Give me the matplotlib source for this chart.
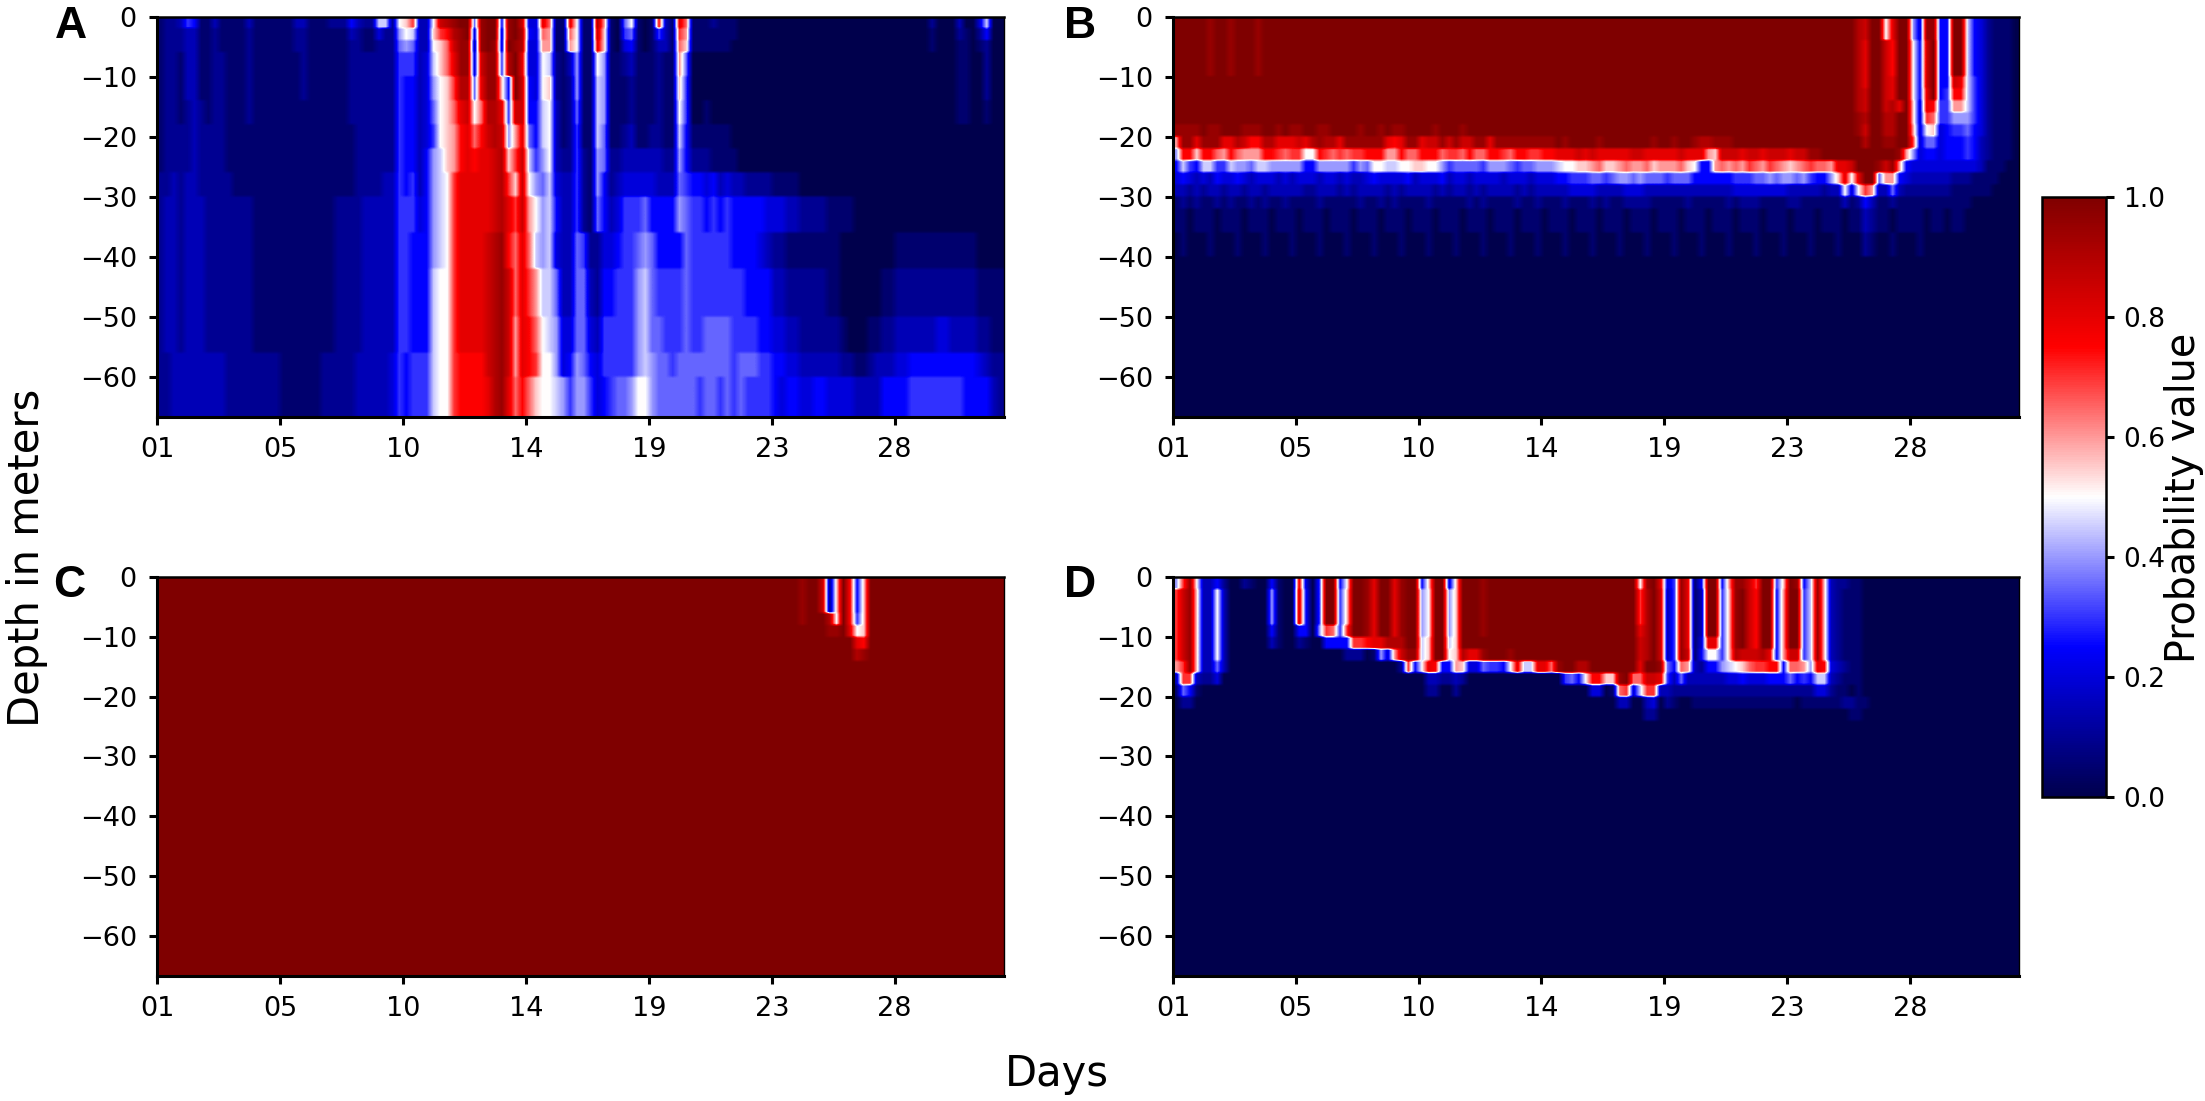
import matplotlib
matplotlib.use('Agg')
import matplotlib.pyplot as plt
import numpy as np

matplotlib.rcParams['font.family'] = ['DejaVu Sans']

# Values, one string per depth band, 4 samples per day,
# one character per sample: int(ch, 36) / 20 -> 0=0.0, a=0.5, k=1.0
day_ticks = [0, 4.5, 9, 13.5, 18, 22.5, 27]
day_labels = ['01', '05', '10', '14', '19', '23', '28']
depth_ticks = [0, -10, -20, -30, -40, -50, -60]
colorbar_ticks = [0.0, 0.2, 0.4, 0.6, 0.8, 1.0]

left_s = '1221 3311 2211 1211 1111 1211 1111 2222 2226 '
left_m = '2332 3332 2222 2211 1111 1111 1122 2233 3336 '
left_d = '2233 3333 3322 2222 2211 1111 2222 2333 3346 '

a_spans = [1, 1, 1, 2, 2, 2, 2, 2, 2, 3, 3, 4, 3, 2, 4]
a_rows = [
    '1223 6511 3111 1311 1111 3311 1222 5322 992a be33 ahij kk7j kk5j kh44 gd11 ga11 ic10 7a10 1f31 gd11 1211 '
    '1000 0000 0000 0000 0000 0000 0000 0200 0300 4900',
    '1222 3311 2111 1211 1111 2211 1111 3211 4228 a933 befi jk4j kk4j ki54 dc11 da11 hb10 6710 1631 ec11 1111 '
    '1000 0000 0000 0000 0000 0000 0000 0100 0210 2500',
    '1222 3311 2111 1211 1111 2211 1111 2211 2227 8733 abdh jj3j kj4k ji44 cc11 ca11 gb10 4510 1331 db11 1111 '
    '0000 0000 0000 0000 0000 0000 0000 0100 0110 1200',
    left_s + '6634 9bdg jj4h jj6i kg44 a921 3811 a811 2311 1211 c700 0000 '
    '0000 0000 0000 0000 0000 0000 0000 0000 0110 0200',
    left_s + '5534 8abe ii7g jjb5 kh54 ab21 2811 9811 1211 1211 b600 0000 '
    '0000 0000 0000 0000 0000 0000 0000 0000 0110 0200',
    '1221 2321 2211 1211 1111 1111 1111 2222 2226 '
    '5534 7abd ghad iig6 hh55 9a31 2711 9811 1211 1211 a600 1000 '
    '0000 0000 0000 0000 0000 0000 0000 0000 0110 0100',
    '1222 2322 2211 1111 1111 1111 1111 1222 2226 '
    '5534 6abc fgdf hih8 cg75 9a31 2611 9711 2311 2211 9511 1111 '
    '0000 0000 0000 0000 0000 0000 0000 0000 0000 0000',
    '1222 2322 2211 1111 1111 1111 1111 1222 2226 '
    '5535 89bc fgfg ghib eh96 8a32 2621 8722 3333 3322 8522 2111 '
    '1000 0000 0000 0000 0000 0000 0000 0000 0000 0000',
    '2232 3322 2221 1111 1111 1111 1111 1222 2336 '
    '5635 89ae gggg ghie bha8 7943 3621 8523 4444 4333 7655 4534 '
    '3322 2211 1100 0000 0000 0000 0000 0000 0000 0000',
    left_m + '6645 89ae gggg ghig ehca 8953 3621 7534 6667 5555 8766 5656 '
    '5555 5444 3322 2211 1100 0000 0000 0000 0000 0000',
    left_m + '6555 89ae gggg hijf dgd9 8943 3762 2445 6678 7555 5766 6666 '
    '5555 4322 1111 1111 0000 0000 1111 1111 1111 0000',
    left_m + '6555 9aae gggg hijh dgec 9973 3773 2556 6689 7666 6766 6666 '
    '6655 5533 2222 2211 0000 0011 2222 2222 2222 1111',
    left_m + '6555 9aae gggg hijh cgfd a984 4774 3666 6689 7766 6766 7777 '
    '6666 5544 3322 2222 1000 1122 3333 3344 3333 2211',
    left_d + '5666 9aae ffff hijh cgfe aa84 5875 4666 6689 8776 7777 7777 '
    '6777 6655 4433 3333 2211 2333 4455 5555 5555 4322',
    left_d + '5666 9aae ffff gijg dfdb aa98 6886 4567 78aa 8777 7776 7767 '
    '6766 6654 5544 5544 4433 3355 5566 6666 6655 5532',
]

b_spans = [2, 3, 1, 1, 1, 1, 1, 1, 1, 1, 1, 1, 1, 2, 2, 14]
b_rows = [
    'kkkk kjkk jkkk jkkk ' + 'kkkk ' * 21 + 'ihkk agkk 84jj 55kk 9542 1110',
    'kkkk kjkk jkkk jkkk ' + 'kkkk ' * 21 + 'igkk hfkk a5hk 55kk 9542 1110',
    'kkkk ' * 25 + 'igkk hgkk a5hk 55hg 9642 1110',
    'kkkk ' * 25 + 'ihkk hgkk a5gk 56ff 9642 1110',
    'kkkk ' * 25 + 'ihkk higk b4gf 66cc 9642 1110',
    'kkkk ' * 25 + 'jikk iikk b4ed 6688 8642 1110',
    'jjjj kjjk kkjj jkkj kjjk kjjk kkkj kkjk jjkk kkjk kkjk kkkk kkkk kkkk '
    + 'kkkk ' * 11 + 'jhkk iikk c4ab 4566 7542 1110',
    'cjjg jjjg gihf fiig gghg ijii gjjj jjjg fgjj ghhj hjhh jjgj jjjj jjjj '
    'kjkk kkjk kkkk kkjk kjkk jiij jjkk kkkk kkkk kkkk kkkk '
    'kikk jjkk e477 4555 6532 1110',
    '8ffb ffdc fdcc cffe deea afed edee fffc cfdd fffd eedf ddff edff eeff '
    'gggh ghgg gggh hggg gghg ggcb hhhg hhgh hhgh hjjk kkkk '
    'kkkk kkjc 8455 4555 6532 1110',
    '5965 9966 9887 9988 8885 5888 8868 7aa9 9aab baa8 6777 7688 8767 7888 '
    '9aab bcdb bcdc cdbc ccdb a55c dcdc edce dcbc dedd cggh '
    'kkkj hjc5 4444 4444 4431 1100',
    '4543 4354 4543 4443 4344 4344 3433 4544 4453 4445 3443 4444 3444 3444 '
    '5566 6776 7887 8777 6777 5555 5566 6778 7887 8655 8bga '
    'gkk7 cc54 3333 3322 2111 1000',
    '3323 2332 3323 3233 3332 2333 2323 3332 3233 3323 2332 3233 3323 2333 '
    '3344 4433 3344 4333 3333 3333 3344 4444 4433 3332 33a4 '
    'aec3 3732 2222 2211 1111 0000',
    '1212 1121 2112 1211 2111 1211 1112 1121 2111 1211 1112 1211 1121 1211 '
    '1211 1212 1122 2211 1112 1111 1212 2211 1122 1111 1131 '
    '2531 1211 1111 1111 1000 0000',
    '1101 ' * 25 + '1321 1011 1101 1011 0000 0000',
    '0100 ' * 25 + '0210 0100 0100 0000 0000 0000',
    '0000 ' * 31,
]

c_spans = [3, 1, 1, 1, 1, 27]
c_rows = [
    'kkkk ' * 23 + 'kkjk kh2b kf5b ' + 'kkkk ' * 5,
    'kkkk ' * 23 + 'kkjk kkia kf6b ' + 'kkkk ' * 5,
    'kkkk ' * 23 + 'kkkk kkjj kgab ' + 'kkkk ' * 5,
    'kkkk ' * 23 + 'kkkk kkkk kkgf ' + 'kkkk ' * 5,
    'kkkk ' * 23 + 'kkkk kkkk kkij ' + 'kkkk ' * 5,
    'kkkk ' * 31,
]

d_spans = [1, 3, 1, 1, 1, 1, 1, 1, 1, 1, 3, 19]
d_rows = [
    '8eja 3352 0021 0051 00g4 06kk 5akk jgkk gjkk 5bkk 4bkk kjkk kkkk kkkk kkkk kkkk kkkk '
    'ajkg 46jg 15kk 5cjj hekk 6bkj 59jb 3221 1000 ' + '0000 ' * 5,
    'ehjb 33a3 0000 0081 00h5 06kk 6bkk jgkk gjkk 8akk 8bkk kjkk kkkk kkkk kkkk kkkk kkkk '
    'eikh 36jg 13kk 6bjk hfkk 5ckk 69jb 3211 1000 ' + '0000 ' * 5,
    'ehjb 33a3 0000 0051 0055 08ed 6ekk jgkk gjkk 8akk 8bkk kjkk kkkk kkkk kkkk kkkk kkkk '
    'gikh 36jg 13kk 6bjk hfkk 5ckk 69jb 3211 1000 ' + '0000 ' * 5,
    'ehjb 33a3 0000 0031 0021 0055 55ee fggi iikk 9bkk 9bkk kkkk kkkk kkkk kkkk kkkk kkkk '
    'hikh 36jg 14gg 6bjk hfkk 5ckk 69jb 3211 1000 ' + '0000 ' * 5,
    'ehjb 33a3 0000 0000 0000 0000 0222 0184 chjj 9bkk abig gjkk kjkk kkkk kkkk kkkk kkkk '
    'hikh 36jh 15aa 6bih hhig 5chh 69jb 3211 1000 ' + '0000 ' * 5,
    'cejb 3373 0000 0000 0000 0000 0000 0000 02e5 agf5 5cb4 4766 5ag9 9ggd jkki ikkk kkkk '
    'gkkj 75dc 3255 89ab deef f5dd c8gf 4321 1000 ' + '0000 ' * 5,
    '3ee3 2240 0000 0000 0000 0000 0000 0000 0000 0332 2320 0000 0000 0000 0675 affb bjkd '
    'dhhg 6373 3333 3445 4445 5575 6599 3211 1000 ' + '0000 ' * 5,
    '1751 0000 0000 0000 0000 0000 0000 0000 0000 0220 0200 0000 0000 0000 0000 0440 1de4 '
    '9ee3 3222 2222 2222 2222 2222 2244 2110 1000 ' + '0000 ' * 5,
    '0220 0000 0000 0000 0000 0000 0000 0000 0000 0000 0000 0000 0000 0000 0000 0000 0330 '
    '0340 2100 1111 1111 1111 1110 1111 1122 1100 ' + '0000 ' * 5,
    '0000 ' * 17 + '0220 0000 0000 0000 0000 0000 0000 0001 1000 ' + '0000 ' * 5,
    '0000 ' * 31,
    '0000 ' * 31,
]


def to_grid(rows, spans):
    # each band is repeated so the bilinear smoothing stays along the days
    table = np.array([[int(ch, 36) / 20 for ch in row.replace(' ', '')] for row in rows])
    return np.repeat(table, np.array(spans) * 4, axis=0)


def place(fig, left, top, right, bottom):
    W, H = 2205, 1101
    return fig.add_axes([left / W, 1 - bottom / H, (right - left) / W, (bottom - top) / H])


def draw_panel(ax, rows, spans):
    im = ax.imshow(to_grid(rows, spans), cmap='seismic', vmin=0, vmax=1, aspect='auto',
                   extent=(0, 31, -68, 0), interpolation='bilinear', interpolation_stage='data')
    ax.set_xlim(0, 31)
    ax.set_ylim(-66.7, 0)
    ax.set_xticks(day_ticks)
    ax.set_xticklabels(day_labels)
    ax.set_yticks(depth_ticks)
    ax.tick_params(labelsize=19.5, length=5.5, width=2.2, pad=9)
    for side in ax.spines:
        ax.spines[side].set_linewidth(2.2)
    ax.spines['right'].set_linewidth(1.0)
    ax.spines['top'].set_linewidth(1.8)
    return im


fig = plt.figure(figsize=(22.05, 11.01), dpi=100)

ax_a = place(fig, 157, 17, 1004, 417)
ax_b = place(fig, 1173, 17, 2019, 417)
ax_c = place(fig, 157, 577, 1004, 976)
ax_d = place(fig, 1173, 577, 2019, 976)

im = draw_panel(ax_a, a_rows, a_spans)
draw_panel(ax_b, b_rows, b_spans)
draw_panel(ax_c, c_rows, c_spans)
draw_panel(ax_d, d_rows, d_spans)

cax = place(fig, 2042, 197, 2106, 797)
cb = fig.colorbar(im, cax=cax)
cb.set_ticks(colorbar_ticks)
cb.ax.tick_params(labelsize=19, length=5.5, width=2.2, pad=7)
cb.outline.set_linewidth(1.8)

for letter, x, y in [('A', 55, 38), ('B', 1064, 38), ('C', 53, 597), ('D', 1064, 597)]:
    fig.text(x / 2205, 1 - y / 1101, letter, fontsize=32, fontweight='bold',
             family='Liberation Sans', ha='left', va='baseline')

fig.text(2184 / 2205, 1 - 498 / 1101, 'Probability value', fontsize=28.5, rotation=90,
         ha='center', va='center')
fig.text(1057 / 2205, 1 - 1074 / 1101, 'Days', fontsize=30, ha='center', va='center')
fig.text(27 / 2205, 1 - 558 / 1101, 'Depth in meters', fontsize=30, rotation=90,
         ha='center', va='center')

fig.savefig('out.png', dpi=100, facecolor='white')
